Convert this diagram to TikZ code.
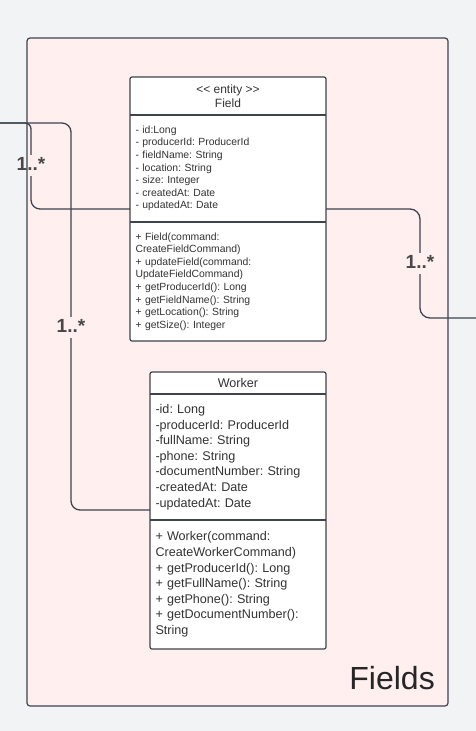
\documentclass[tikz,border=0pt]{standalone}
\usepackage{fontspec}
\setmainfont{Liberation Sans}
\usetikzlibrary{positioning}
\frenchspacing

\definecolor{pagebg}{RGB}{242,243,245}
\definecolor{pkgfill}{RGB}{255,239,239}
\definecolor{inkline}{RGB}{61,68,77}
\definecolor{inktext}{RGB}{51,51,51}
\definecolor{multgray}{RGB}{72,72,72}

\newcommand\smalltext{\fontsize{10.4}{12.6}\selectfont}
\newcommand\midtext{\fontsize{12.6}{15.6}\selectfont}

\tikzset{
    pkgbox/.style={draw=inkline, fill=pkgfill, line width=1.2pt, rounded corners=3pt, inner sep=0pt},
    classhead/.style={fill=white, inner sep=0pt, outer sep=0pt, align=center, text=inktext},
    classpart/.style={fill=white, inner xsep=5.5pt, inner ysep=0pt, outer sep=0pt, align=left, text=inktext},
    classline/.style={draw=inkline, line width=1.2pt},
    assoc/.style={draw=inkline, line width=1.3pt},
    mult/.style={font=\fontsize{19}{22}\selectfont\bfseries, text=multgray, inner xsep=1pt, inner ysep=1pt, text height=14pt, text depth=5pt, anchor=base},
}

\begin{document}
\begin{tikzpicture}[x=1pt, y=-1pt]
    \path[fill=pagebg, use as bounding box] (0,0) rectangle (476,731);

    \node[pkgbox, minimum width=421pt, minimum height=668pt] (fieldsPkg) at (237.5,372) {};
    \node[anchor=base east, inner sep=0pt, font=\fontsize{32}{36}\selectfont, text=black!85] (fieldsName) at (435,689) {Fields};

    \node[classhead, font=\fontsize{12}{14}\selectfont, minimum width=196pt, minimum height=38pt] (fieldHead) at (228,96) {<{}< entity >{}>\\Field};
    \node[classpart, font=\smalltext, text width=185pt, minimum height=107pt, below=0pt of fieldHead] (fieldAttrs) {- id:Long\\- producerId: ProducerId\\- fieldName: String\\- location: String\\- size: Integer\\- createdAt: Date\\- updatedAt: Date};
    \node[classpart, font=\smalltext, text width=185pt, minimum height=119pt, below=0pt of fieldAttrs] (fieldOps) {+ Field(command:\\CreateFieldCommand)\\+ updateField(command:\\UpdateFieldCommand)\\+ getProducerId(): Long\\+ getFieldName(): String\\+ getLocation(): String\\+ getSize(): Integer};
    \draw[classline, rounded corners=2pt] (fieldHead.north west) rectangle (fieldOps.south east);
    \draw[classline] (fieldHead.south west) -- (fieldHead.south east);
    \draw[classline] (fieldAttrs.south west) -- (fieldAttrs.south east);

    \node[classhead, font=\midtext, minimum width=176pt, minimum height=22pt] (workerHead) at (238,383) {Worker};
    \node[classpart, font=\midtext, text width=165pt, minimum height=126pt, below=0pt of workerHead] (workerAttrs) {-id: Long\\-producerId: ProducerId\\-fullName: String\\-phone: String\\-documentNumber: String\\-createdAt: Date\\-updatedAt: Date};
    \node[classpart, font=\midtext, text width=165pt, minimum height=129pt, below=0pt of workerAttrs] (workerOps) {+ Worker(command:\\CreateWorkerCommand)\\+ getProducerId(): Long\\+ getFullName(): String\\+ getPhone(): String\\+ getDocumentNumber():\\String};
    \draw[classline, rounded corners=2pt] (workerHead.north west) rectangle (workerOps.south east);
    \draw[classline] (workerHead.south west) -- (workerHead.south east);
    \draw[classline] (workerAttrs.south west) -- (workerAttrs.south east);

    \node[mult] (multField) at (31,170) {1..*};
    \node[mult] (multWorker) at (71,332) {1..*};
    \node[mult] (multRight) at (420,268) {1..*};

    \coordinate (extLeft) at (-2,123);
    \coordinate (extRight) at (478,318);

    \draw[assoc, rounded corners=6pt] (extLeft) -| (multField.north);
    \draw[assoc, rounded corners=9pt] (multField.south) |- (fieldAttrs.west |- 0,209);
    \draw[assoc, rounded corners=9pt] (extLeft) -| (multWorker.north);
    \draw[assoc, rounded corners=9pt] (multWorker.south) |- (workerAttrs.west |- 0,510);
    \draw[assoc, rounded corners=10pt] (fieldAttrs.east |- 0,209) -| (multRight.north);
    \draw[assoc, rounded corners=10pt] (multRight.south) |- (extRight);
\end{tikzpicture}
\end{document}
